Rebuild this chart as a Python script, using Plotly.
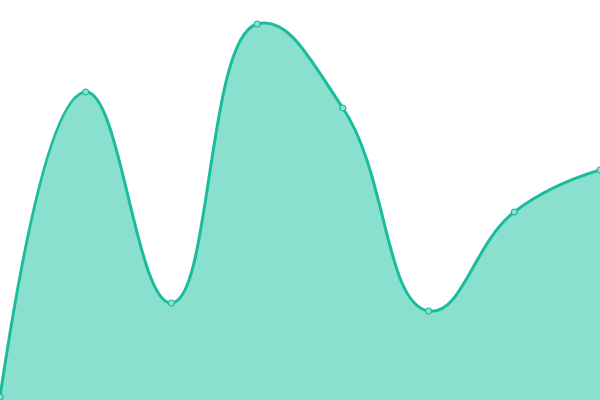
import plotly.graph_objects as go

# values (plot height 400 = value 400)
x_idx = [0, 1, 2, 3, 4, 5, 6, 7]
values = [3, 308, 97, 376, 292, 89, 188, 230]

fig = go.Figure()
fig.add_trace(go.Scatter(
    x=x_idx, y=values,
    mode="lines+markers",
    line=dict(color="#1abc9c", width=3, shape="spline", smoothing=1.3),
    marker=dict(size=6, color="#8ce0cf", line=dict(color="#1abc9c", width=1.2)),
    fill="tozeroy",
    fillcolor="#89e0cf",
    cliponaxis=False,
))

fig.update_layout(
    width=600, height=400,
    margin=dict(l=0, r=0, t=0, b=0),
    paper_bgcolor="white", plot_bgcolor="white",
    showlegend=False,
    xaxis=dict(range=[0, 7], visible=False, fixedrange=True),
    yaxis=dict(range=[0, 400], visible=False, fixedrange=True),
)

# drop the default body margin so the chart sits at the top-left corner
fig.write_html(
    "out.html",
    config={"displayModeBar": False},
    post_script="document.body.style.margin='0';document.body.style.overflow='hidden';",
)
